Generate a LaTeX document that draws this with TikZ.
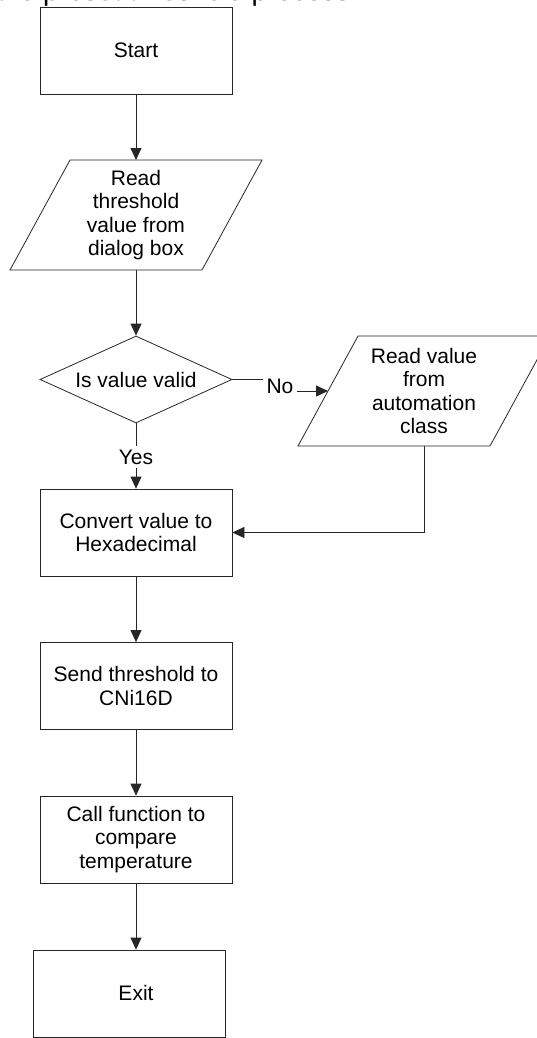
\documentclass[tikz,border=0pt]{standalone}
\usepackage{fontspec}
\setmainfont{Liberation Sans}
\usetikzlibrary{arrows.meta,shapes.geometric,calc}

\begin{document}
\begin{tikzpicture}[x=1pt,y=-1pt,
  line/.style={draw=black!85, line width=0.8pt},
  arrow/.style={line, -{Triangle[length=12pt,width=11pt]}},
  bodyfont/.style={font=\fontsize{21}{23.5}\selectfont},
  txt/.style={bodyfont, align=center, inner sep=0pt},
  stepbox/.style={line, rectangle, minimum width=192pt, minimum height=87pt,
                  inner sep=0pt, align=center, bodyfont},
  decision/.style={line, diamond, aspect=2.2, minimum width=192pt,
                   minimum height=87pt, inner sep=0pt, bodyfont},
  lbl/.style={bodyfont, inner sep=3pt}
]
\useasboundingbox (0,0) rectangle (537,1038);
\clip (0,0) rectangle (537,1038);

% heading line, mostly above the page edge
\node[anchor=south east, inner sep=0pt, font=\fontsize{28}{32}\selectfont]
  (heading) at (350,7) {Flowchart of the preset threshold process};

% process boxes
\node[stepbox] (start) at (136,50.5) {Start};
\node[stepbox] (convert) at (136,532.5) {Convert value to\\Hexadecimal};
\node[stepbox] (send) at (136,686) {Send threshold to\\CNi16D};
\node[stepbox] (call) at (136,839.5) {Call function to\\compare\\temperature};
\node[stepbox] (exit) at (129,993.5) {};
\node[txt] (exittext) at (136,993) {Exit};

% input: read threshold
\node[txt] (read) at (136,215) {Read\\threshold\\value from\\dialog box};
\draw[line] ($(read)+(-66,-55)$) -- ($(read)+(126,-55)$)
  -- ($(read)+(66,55)$) -- ($(read)+(-126,55)$) -- cycle;
\coordinate (readtop) at ($(read)+(0,-55)$);
\coordinate (readbot) at ($(read)+(0,55)$);

% decision
\node[decision] (valid) at (136,379.5) {Is value valid};

% input: automation class
\node[txt] (auto) at (424,391) {Read value\\from\\automation\\class};
\draw[line] ($(auto)+(-66,-55)$) -- ($(auto)+(126,-55)$)
  -- ($(auto)+(66,55)$) -- ($(auto)+(-126,55)$) -- cycle;
\coordinate (autoin) at ($(auto)+(-96,0)$);
\coordinate (autobot) at ($(auto)+(0,55)$);

% branch labels
\node[lbl] (no) at (280,386) {No};
\node[lbl] (yes) at (136,457) {Yes};

% connectors
\draw[arrow] (start.south) -- (readtop);
\draw[arrow] (readbot) -- (valid.north);
\draw[line] (valid.east) -- (valid.east -| no.west);
\draw[arrow] (no.east |- autoin) -- (autoin);
\draw[line] (valid.south) -- (yes.north);
\draw[arrow] (yes.south) -- (convert.north);
\draw[arrow] (autobot) |- (convert.east);
\draw[arrow] (convert.south) -- (send.north);
\draw[arrow] (send.south) -- (call.north);
\draw[arrow] (call.south) -- (call.south |- exit.north);
\end{tikzpicture}
\end{document}
